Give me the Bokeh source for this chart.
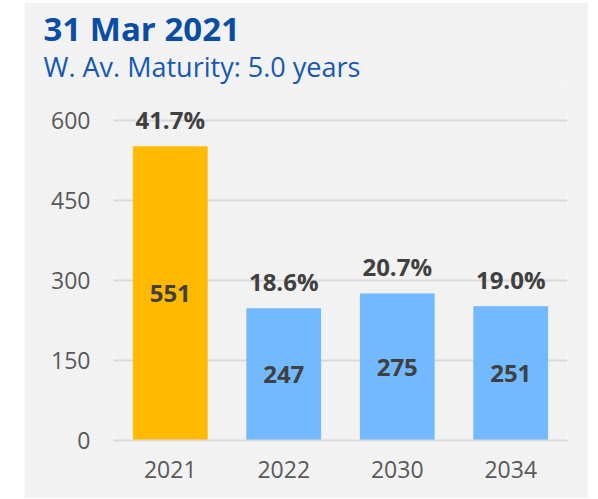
from bokeh.plotting import figure
from bokeh.models import ColumnDataSource, FixedTicker, Title, LabelSet
from bokeh.core.properties import value
from bokeh.embed import file_html
from bokeh.resources import INLINE

categories = ["2021", "2022", "2030", "2034"]
values = [551, 247, 275, 251]
shares = ["41.7%", "18.6%", "20.7%", "19.0%"]
bar_colors = ["#FFBA00", "#72B9FF", "#72B9FF", "#72B9FF"]
y_ticks = [0, 150, 300, 450, 600]

FONT = "Open Sans"
BG = "#F2F2F2"

src = ColumnDataSource(dict(
    cat=categories,
    val=values,
    half=[v / 2 for v in values],
    share=shares,
    val_txt=[str(v) for v in values],
    color=bar_colors,
))

p = figure(x_range=categories, y_range=(0, 668), width=564, height=496,
           output_backend="svg", toolbar_location=None,
           min_border_left=89, min_border_right=21, min_border_bottom=58, min_border_top=0)
p.margin = (2, 0, 0, 24)
p.background_fill_color = BG
p.border_fill_color = BG
p.outline_line_color = None

p.vbar(x="cat", top="val", width=0.65, color="color", source=src)

p.add_layout(LabelSet(x="cat", y="val", text="share", source=src, text_align="center",
                      text_baseline="alphabetic", y_offset=17.5, text_font=value(FONT),
                      text_font_style="bold", text_font_size="24px", text_color="#404040"))
p.add_layout(LabelSet(x="cat", y="half", text="val_txt", source=src, text_align="center",
                      text_baseline="middle", text_font=value(FONT),
                      text_font_style="bold", text_font_size="24px", text_color="#404040"))

p.yaxis.ticker = FixedTicker(ticks=y_ticks)
p.ygrid.ticker = FixedTicker(ticks=y_ticks)
p.ygrid.grid_line_color = "#D9D9D9"
p.ygrid.grid_line_width = 2
p.xgrid.grid_line_color = None
for ax in (p.xaxis, p.yaxis):
    ax.axis_line_color = None
    ax.major_tick_line_color = None
    ax.minor_tick_line_color = None
    ax.major_tick_out = 0
    ax.major_tick_in = 0
    ax.minor_tick_out = 0
    ax.minor_tick_in = 0
    ax.major_label_text_font = FONT
    ax.major_label_text_font_size = "23px"
    ax.major_label_text_color = "#595959"
p.yaxis.major_label_standoff = 23
p.xaxis.major_label_standoff = 20
p.xaxis.axis_line_color = "#D9D9D9"
p.xaxis.axis_line_width = 2

sub = Title(text="W. Av. Maturity: 5.0 years", align="left", offset=-70,
            text_font=FONT, text_font_size="27px", text_font_style="normal",
            text_color="#1559B0", standoff=0)
ttl = Title(text="31 Mar 2021", align="left", offset=-70,
            text_font=FONT, text_font_size="33px", text_font_style="bold",
            text_color="#0A4DA2", standoff=-11.6)
pad = Title(text=" ", text_font_size="5.5px", standoff=0)
p.add_layout(sub, "above")
p.add_layout(ttl, "above")
p.add_layout(pad, "above")

open("out.html", "w").write(file_html(p, INLINE))
